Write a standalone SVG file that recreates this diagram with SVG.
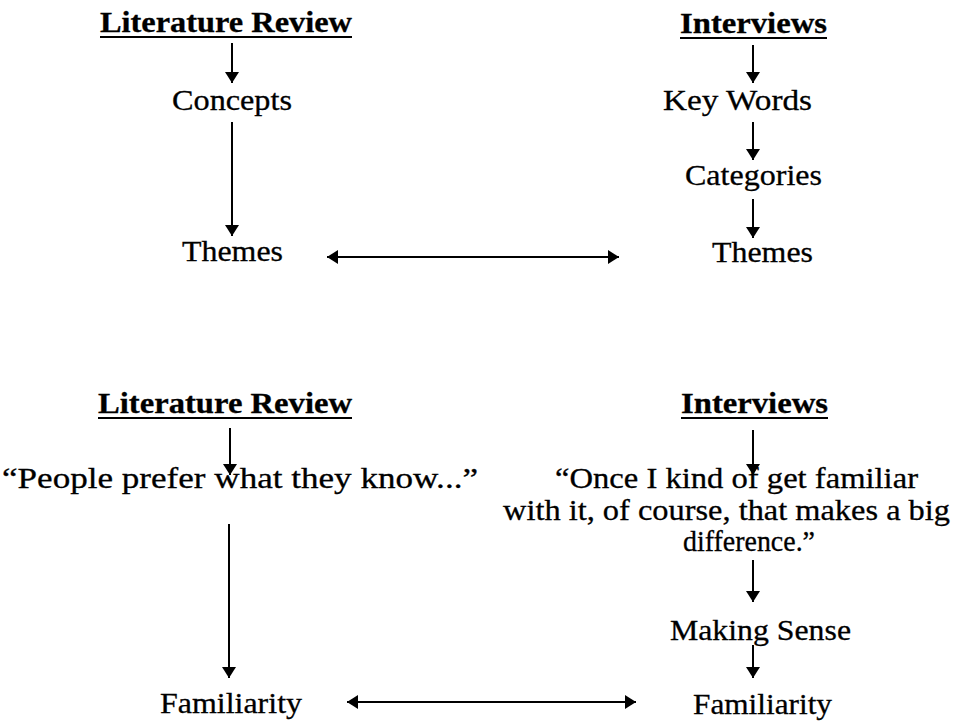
<svg xmlns="http://www.w3.org/2000/svg" width="957" height="723" viewBox="0 0 957 723">
<defs>
<style>
text{font-family:"Liberation Serif","Times New Roman",Times,serif;font-size:30px;fill:#000;stroke:#000;stroke-width:0.3}
.h{font-weight:bold}
.ln{stroke:#000;stroke-width:2;fill:none}
</style>
<marker id="ah" viewBox="0 0 11 14" refX="11" refY="7" markerWidth="11" markerHeight="14" markerUnits="userSpaceOnUse" orient="auto-start-reverse">
<path d="M0,0 L11,7 L0,14 z" fill="#000"/>
</marker>
</defs>
<rect width="957" height="723" fill="#fff"/>
<g font-family="Liberation Serif, serif">
<g id="lit1"><text class="h" x="100" y="32" textLength="252" lengthAdjust="spacingAndGlyphs">Literature Review</text><rect x="100" y="36" width="252" height="2"/></g>
<g id="concepts"><text x="172" y="110" textLength="120" lengthAdjust="spacingAndGlyphs">Concepts</text></g>
<g id="themes1"><text x="182" y="261" textLength="101" lengthAdjust="spacingAndGlyphs">Themes</text></g>
<g id="int1"><text class="h" x="680" y="33" textLength="147" lengthAdjust="spacingAndGlyphs">Interviews</text><rect x="680" y="37" width="147" height="2"/></g>
<g id="keywords"><text x="663" y="110" textLength="149" lengthAdjust="spacingAndGlyphs">Key Words</text></g>
<g id="categories"><text x="685" y="185" textLength="137" lengthAdjust="spacingAndGlyphs">Categories</text></g>
<g id="themes2"><text x="712" y="262" textLength="101" lengthAdjust="spacingAndGlyphs">Themes</text></g>
<g id="lit2"><text class="h" x="98" y="413" textLength="254" lengthAdjust="spacingAndGlyphs">Literature Review</text><rect x="98" y="417" width="254" height="2"/></g>
<g id="quote1"><text x="2" y="488" textLength="476" lengthAdjust="spacingAndGlyphs">“People prefer what they know...”</text></g>
<g id="fam1"><text x="160" y="713" textLength="142" lengthAdjust="spacingAndGlyphs">Familiarity</text></g>
<g id="int2"><text class="h" x="681" y="413" textLength="147" lengthAdjust="spacingAndGlyphs">Interviews</text><rect x="681" y="417" width="147" height="2"/></g>
<g id="quote2">
<text x="555" y="488" textLength="363" lengthAdjust="spacingAndGlyphs">“Once I kind of get familiar</text>
<text x="503" y="520" textLength="447" lengthAdjust="spacingAndGlyphs">with it, of course, that makes a big</text>
<text x="683" y="551" textLength="132" lengthAdjust="spacingAndGlyphs">difference.”</text>
</g>
<g id="making"><text x="670" y="640" textLength="181" lengthAdjust="spacingAndGlyphs">Making Sense</text></g>
<g id="fam2"><text x="693" y="714" textLength="139" lengthAdjust="spacingAndGlyphs">Familiarity</text></g>
</g>
<g id="connectors" class="ln">
<line class="ln" x1="232" y1="43" x2="232" y2="83" marker-end="url(#ah)"/>
<line class="ln" x1="232" y1="122" x2="232" y2="236" marker-end="url(#ah)"/>
<line class="ln" x1="327" y1="257" x2="619" y2="257" marker-start="url(#ah)" marker-end="url(#ah)"/>
<line class="ln" x1="753" y1="45" x2="753" y2="83" marker-end="url(#ah)"/>
<line class="ln" x1="753" y1="122" x2="753" y2="160" marker-end="url(#ah)"/>
<line class="ln" x1="753" y1="199" x2="753" y2="238" marker-end="url(#ah)"/>
<line class="ln" x1="230" y1="428" x2="230" y2="475" marker-end="url(#ah)"/>
<line class="ln" x1="229" y1="524" x2="229" y2="678" marker-end="url(#ah)"/>
<line class="ln" x1="347" y1="702" x2="636" y2="702" marker-start="url(#ah)" marker-end="url(#ah)"/>
<line class="ln" x1="753" y1="430" x2="753" y2="475" marker-end="url(#ah)"/>
<line class="ln" x1="753" y1="560" x2="753" y2="602" marker-end="url(#ah)"/>
<line class="ln" x1="753" y1="645" x2="753" y2="678" marker-end="url(#ah)"/>
</g>
</svg>
